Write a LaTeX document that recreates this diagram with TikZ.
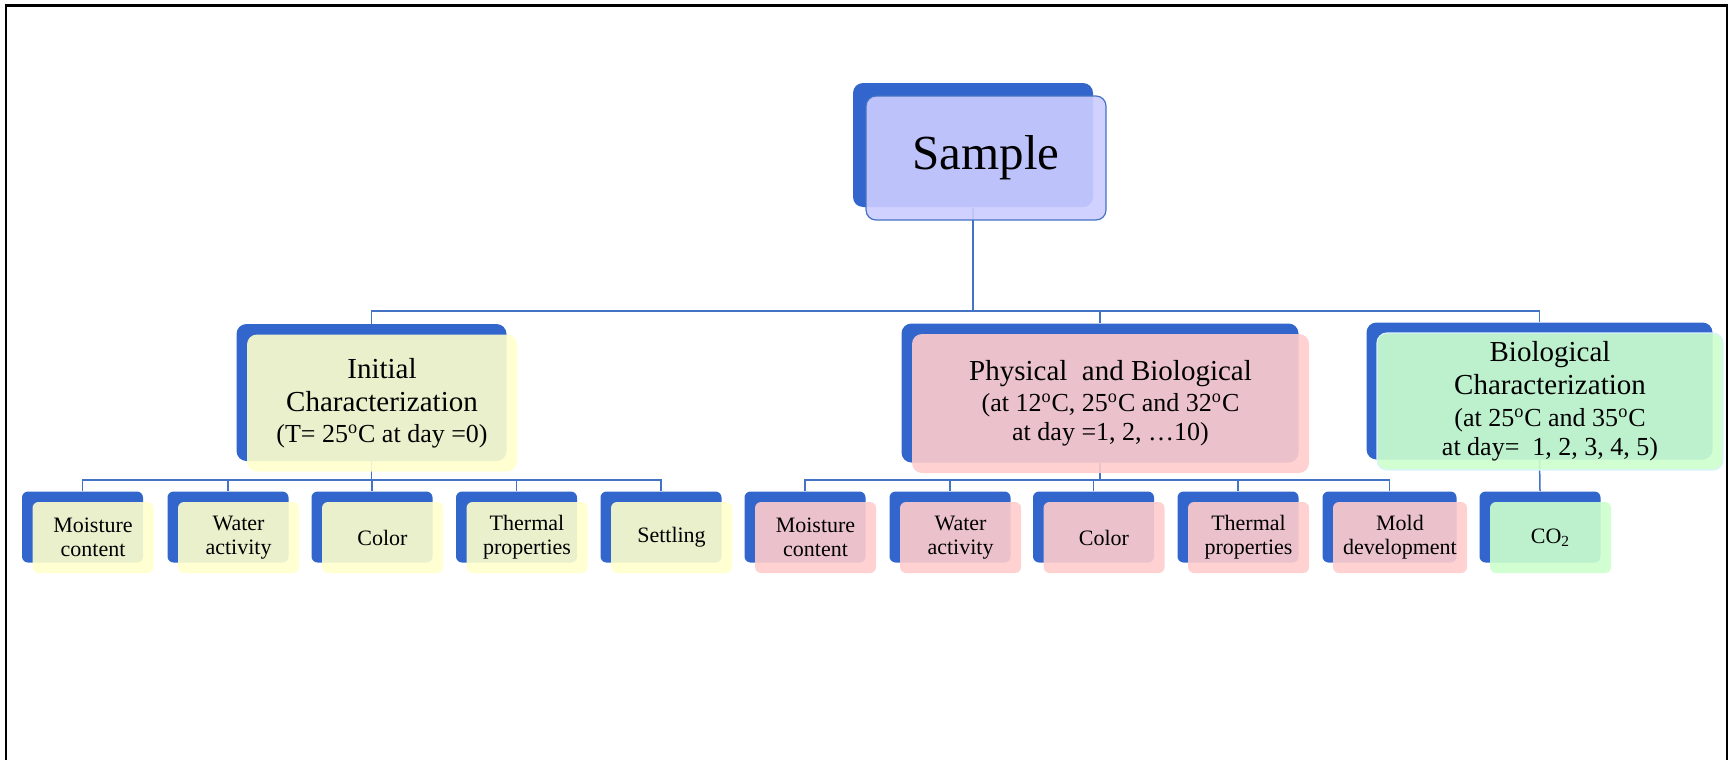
\documentclass[tikz,border=0pt]{standalone}
\usepackage{fontspec}
\setmainfont{Liberation Serif}
\usetikzlibrary{shadows,backgrounds}

\definecolor{backblue}{RGB}{51,102,204}
\definecolor{lineblue}{RGB}{68,114,196}
\definecolor{lilac}{RGB}{204,204,255}
\definecolor{lemon}{RGB}{255,255,204}
\definecolor{rose}{RGB}{255,204,204}
\definecolor{mint}{RGB}{204,255,204}

\newcommand{\sublabel}[1]{{\fontsize{13}{14.5}\selectfont #1}}
\newcommand{\dg}{\textsuperscript{o}}

\tikzset{
  card/.style={rounded corners=5pt, fill opacity=.9, text opacity=1, align=center, inner sep=0pt,
    general shadow={fill=backblue, fill opacity=1, shadow xshift=-#1, shadow yshift=#1}},
  card/.default=5.25pt,
  big/.style={card, font=\fontsize{14.5}{16.5}\selectfont, minimum height=68.5pt},
  small/.style={card, rounded corners=3pt, font=\fontsize{11}{12}\selectfont,
    minimum width=60.5pt, minimum height=35.5pt},
  link/.style={lineblue, line width=.75pt}
}

\begin{document}
\begin{tikzpicture}[x=0.5pt,y=-0.5pt]
  \useasboundingbox (0,0) rectangle (1728,760);
  \draw[line width=1.1pt] (6,760) -- (6,5.5) -- (1727,5.5) -- (1727,760);

  \node[card=6.5pt, fill=lilac, draw=lineblue, line width=.6pt, minimum width=120pt, minimum height=62pt,
    font=\fontsize{24.5}{28}\selectfont] (sample) at (986,158) {Sample};

  \node[big, fill=lemon, minimum width=135pt] (init) at (382,403)
    {Initial\\Characterization\\[-1.2pt]\sublabel{(T= 25\dg C at day =0)}};
  \node[big, fill=rose, minimum width=198.5pt, minimum height=69.5pt] (phys) at (1110.5,403.5)
    {Physical\ \ and Biological\\[-1.2pt]\sublabel{(at 12\dg C, 25\dg C and 32\dg C}\\[-1.6pt]\sublabel{at day =1, 2, \dots10)}};
  \node[big, fill=mint, draw=cyan!15, line width=.6pt, minimum width=173pt] (bio) at (1550,401.5)
    {Biological\\Characterization\\[-0.8pt]\sublabel{(at 25\dg C and 35\dg C}\\[-1.6pt]\sublabel{at day= \ 1, 2, 3, 4, 5)}};

  \foreach \nm/\px/\txt in {ia/93/Moisture\\content, ib/238.5/Water\\activity, ic/382.5/Color,
      id/527/Thermal\\properties, ie/671.5/Settling}
    \node[small, fill=lemon] (\nm) at (\px,537.5) {\txt};

  \foreach \nm/\px/\w/\txt in {pa/815.5/60.5pt/Moisture\\content, pb/960.5/60.5pt/Water\\activity,
      pc/1104/60.5pt/Color, pd/1248.5/60.5pt/Thermal\\properties, pe/1400/67pt/Mold\\development}
    \node[small, fill=rose, minimum width=\w] (\nm) at (\px,537.5) {\txt};

  \node[small, fill=mint] (co2) at (1550.5,537.5) {CO\textsubscript{2}};

  \begin{scope}[on background layer]
    \coordinate (topbus) at (973,311);
    \coordinate (leftbus) at (371.5,480);
    \coordinate (midbus) at (1100,480);
    \draw[link] ([shift={(-13,-13)}]sample.south) -- (topbus);
    \foreach \n in {init,phys,bio}
      \draw[link] (topbus) -| ([shift={(-10.5,-10.5)}]\n.north);
    \draw[link] ([shift={(-10.5,-10.5)}]init.south) -- (leftbus);
    \foreach \n in {ia,ib,ic,id,ie}
      \draw[link] (leftbus) -| ([shift={(-10.5,-10.5)}]\n.north);
    \draw[link] ([shift={(-10.5,-10.5)}]phys.south) -- (midbus);
    \foreach \n in {pa,pb,pc,pd,pe}
      \draw[link] (midbus) -| ([shift={(-10.5,-10.5)}]\n.north);
    \draw[link] ([shift={(-10.5,-10.5)}]bio.south) -- ([shift={(-10.5,-10.5)}]co2.north);
  \end{scope}
\end{tikzpicture}
\end{document}
